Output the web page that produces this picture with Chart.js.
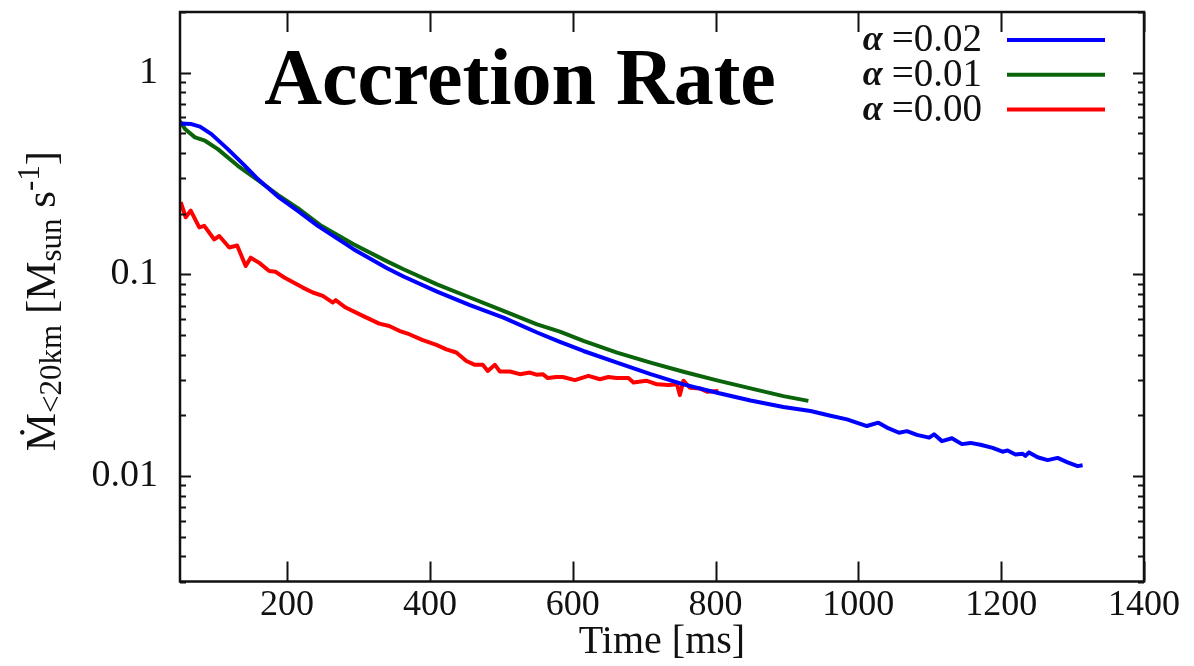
<!DOCTYPE html>
<html><head><meta charset="utf-8">
<script src="https://cdn.jsdelivr.net/npm/chart.js@4.4.0/dist/chart.umd.min.js"></script>
<style>html,body{margin:0;padding:0;background:#fff}</style>
</head><body>
<canvas id="c" width="1194" height="666"></canvas>
<script>
// ---- data ----
const seriesLabels = ['=0.02', '=0.01', '=0.00'];
const seriesColors = ['#0000ff', '#0b640b', '#ff0000'];

const blueTime = [50,66,78,94,117,141,159,187,215,243,293,340,363,410,456,503,550,582,615,662,709,755,802,849,895,933,961,984,1012,1028,1040,1057,1068,1082,1099,1106,1117,1131,1145,1157,1171,1188,1202,1209,1220,1230,1234,1239,1251,1265,1279,1293,1307,1314];
const blueRate = [0.560,0.556,0.540,0.496,0.418,0.345,0.297,0.243,0.2066,0.174,0.1334,0.1073,0.0976,0.0821,0.0704,0.061,0.0515,0.0463,0.0417,0.0365,0.0320,0.0285,0.0259,0.0237,0.0220,0.0210,0.0199,0.0191,0.0177,0.0184,0.0174,0.0164,0.0167,0.0160,0.0155,0.0161,0.0149,0.0154,0.0144,0.0146,0.0143,0.0138,0.0132,0.0134,0.0128,0.0129,0.0126,0.0131,0.0124,0.0120,0.0123,0.0117,0.0112,0.0113];

const greenTime = [50,57,71,85,103,131,159,187,215,246,293,340,363,410,456,503,550,582,615,662,709,755,802,849,895,930];
const greenRate = [0.573,0.526,0.478,0.46,0.418,0.3455,0.2935,0.248,0.213,0.176,0.141,0.116,0.106,0.0892,0.0768,0.0659,0.0565,0.052,0.0468,0.0409,0.0365,0.0329,0.0298,0.0272,0.0249,0.0236];

const redTime = [51,58,65,77,84,98,105,119,130,142,149,161,175,184,196,222,236,250,264,268,282,306,329,343,357,371,390,409,423,437,451,463,474,481,491,498,512,526,540,549,558,565,577,586,603,622,638,650,661,678,685,703,718,734,746,750,755,764,778,788,804];
const redRate = [0.228,0.192,0.207,0.171,0.174,0.149,0.155,0.136,0.139,0.110,0.121,0.114,0.104,0.103,0.0965,0.086,0.0813,0.0782,0.0725,0.0745,0.0685,0.0623,0.057,0.0555,0.0525,0.0505,0.0472,0.0447,0.0425,0.041,0.0372,0.0356,0.0356,0.0332,0.0356,0.033,0.033,0.032,0.0326,0.0318,0.032,0.0306,0.031,0.031,0.0299,0.0314,0.0302,0.031,0.0306,0.0306,0.0291,0.0297,0.0285,0.0283,0.0285,0.0252,0.0297,0.0274,0.0272,0.0262,0.0264];

const xTicks = [200,400,600,800,1000,1200,1400];
const yTicks = [0.01,0.1,1];
const yTickLabels = ['0.01','0.1','1'];
const titleText = 'Accretion Rate';
const xTitle = 'Time [ms]';

const pairs = (t, v) => t.map((x, i) => ({x: x, y: v[i]}));
const SERIF = '"Liberation Serif", "Times New Roman", serif';
const INK = '#111';

const deco = {
  id: 'deco',
  afterDraw(chart) {
    const {ctx, chartArea: a, scales: {x, y}} = chart;
    ctx.save();
    ctx.strokeStyle = INK;
    ctx.lineWidth = 2;
    ctx.beginPath();
    xTicks.forEach(v => {
      const px = Math.round(x.getPixelForValue(v)) + 0.5;
      ctx.moveTo(px, a.bottom); ctx.lineTo(px, a.bottom - 20);
      ctx.moveTo(px, a.top); ctx.lineTo(px, a.top + 20);
    });
    [0.001, 0.01, 0.1, 1].forEach(d => {
      for (let k = 1; k <= 9; k++) {
        const v = k * d;
        if (v < y.min || v > y.max) continue;
        const py = Math.round(y.getPixelForValue(v)) + 0.5;
        const len = k === 1 ? 11 : 6;
        ctx.moveTo(a.left, py); ctx.lineTo(a.left + len, py);
        ctx.moveTo(a.right, py); ctx.lineTo(a.right - len, py);
      }
    });
    ctx.stroke();
    ctx.lineWidth = 2.5;
    ctx.strokeRect(a.left, a.top, a.right - a.left, a.bottom - a.top);

    ctx.fillStyle = '#000';
    ctx.font = 'bold 80px ' + SERIF;
    ctx.textAlign = 'center';
    ctx.textBaseline = 'alphabetic';
    ctx.fillText(titleText, 520, 104);

    chart.data.datasets.forEach((ds, i) => {
      const yy = 40 + i * 34.7;
      ctx.strokeStyle = ds.borderColor;
      ctx.lineWidth = 4;
      ctx.beginPath(); ctx.moveTo(1007, yy); ctx.lineTo(1105, yy); ctx.stroke();
      ctx.fillStyle = INK;
      ctx.textBaseline = 'middle';
      ctx.textAlign = 'right';
      ctx.font = '39px ' + SERIF;
      ctx.fillText(ds.label, 982, yy + 1);
      const w = ctx.measureText(ds.label).width;
      ctx.font = 'italic bold 36px ' + SERIF;
      ctx.fillText('α', 982 - w - 9, yy + 1);
    });

    const pieces = [
      {t: 'Ṁ', s: 43, dy: 0},
      {t: '<20km', s: 31, dy: 6},
      {t: ' [M', s: 43, dy: 0},
      {t: 'sun', s: 31, dy: 6},
      {t: ' s', s: 43, dy: 0},
      {t: '-1', s: 31, dy: -16},
      {t: ']', s: 43, dy: 0}
    ];
    ctx.save();
    ctx.translate(55, 301);
    ctx.rotate(-Math.PI / 2);
    ctx.textAlign = 'left';
    ctx.textBaseline = 'alphabetic';
    let total = 0;
    pieces.forEach(p => { ctx.font = p.s + 'px ' + SERIF; p.w = ctx.measureText(p.t).width; total += p.w; });
    let cx = -total / 2;
    ctx.fillStyle = INK;
    pieces.forEach(p => { ctx.font = p.s + 'px ' + SERIF; ctx.fillText(p.t, cx, p.dy); cx += p.w; });
    ctx.restore();
    ctx.restore();
  }
};

new Chart(document.getElementById('c'), {
  type: 'line',
  data: {
    datasets: [
      {label: seriesLabels[0], data: pairs(blueTime, blueRate), borderColor: seriesColors[0]},
      {label: seriesLabels[1], data: pairs(greenTime, greenRate), borderColor: seriesColors[1]},
      {label: seriesLabels[2], data: pairs(redTime, redRate), borderColor: seriesColors[2]}
    ].map(d => Object.assign(d, {borderWidth: 4, pointRadius: 0, fill: false, tension: 0, borderJoinStyle: 'round', borderCapStyle: 'butt'}))
  },
  options: {
    responsive: false, animation: false, devicePixelRatio: 1,
    layout: {padding: {top: 12, right: 50, left: 0, bottom: 0}},
    plugins: {legend: {display: false}, tooltip: {enabled: false}},
    scales: {
      x: {
        type: 'linear', min: 50, max: 1400,
        afterBuildTicks: s => { s.ticks = xTicks.map(v => ({value: v})); },
        grid: {display: false, drawTicks: false}, border: {display: false},
        ticks: {font: {family: SERIF, size: 36}, color: INK, padding: 2, maxRotation: 0, autoSkip: false,
          callback: v => String(v)},
        title: {display: true, text: xTitle, font: {family: SERIF, size: 40}, color: INK, padding: {top: 0, bottom: 0}},
        afterFit: s => { s.height = 84.5; s.paddingLeft = 0; s.paddingRight = 0; }
      },
      y: {
        type: 'logarithmic', min: 0.003, max: 2,
        afterBuildTicks: s => { s.ticks = yTicks.map(v => ({value: v})); },
        grid: {display: false, drawTicks: false}, border: {display: false},
        ticks: {font: {family: SERIF, size: 38}, color: INK, padding: 22, autoSkip: false,
          callback: v => { const i = yTicks.indexOf(v); return i >= 0 ? yTickLabels[i] : ''; }},
        afterFit: s => { s.width = 180; s.paddingTop = 0; s.paddingBottom = 0; }
      }
    }
  },
  plugins: [deco]
});
</script>
</body></html>
